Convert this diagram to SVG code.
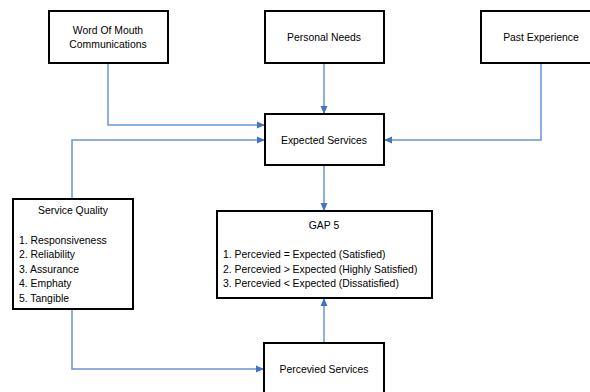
<svg xmlns="http://www.w3.org/2000/svg" width="590" height="392" viewBox="0 0 590 392">
<style>
.box{fill:#fff;stroke:#000;stroke-width:2}
.t{font-family:"Liberation Sans",Arial,sans-serif;font-size:10.4px;fill:#000}
.c{text-anchor:middle}
.ln{fill:none;stroke:#6b93d6;stroke-width:1.5;marker-end:url(#ah)}
</style>
<defs>
<marker id="ah" markerWidth="8" markerHeight="8" refX="7" refY="4" orient="auto" markerUnits="userSpaceOnUse">
<path d="M0,0.5 L8,4 L0,7.5 Z" fill="#4472c4"/>
</marker>
</defs>
<rect width="590" height="392" fill="#fff"/>
<g id="connectors">
<polyline class="ln" points="108,63 108,125 264,125"/>
<polyline class="ln" points="72,199 72,140 264,140"/>
<polyline class="ln" points="324,63 324,113"/>
<polyline class="ln" points="541,63 541,140 385,140"/>
<polyline class="ln" points="324,165 324,210"/>
<polyline class="ln" points="72,309 72,369 263,369"/>
<polyline class="ln" points="324,343 324,299"/>
</g>
<g id="wom">
<rect class="box" x="49" y="11" width="119" height="52"/>
<text class="t c" x="108" y="34">Word Of Mouth</text>
<text class="t c" x="108" y="48">Communications</text>
</g>
<g id="personal">
<rect class="box" x="265" y="11" width="119" height="52"/>
<text class="t c" x="324" y="41">Personal Needs</text>
</g>
<g id="past">
<rect class="box" x="481" y="11" width="120" height="52"/>
<text class="t c" x="541" y="41">Past Experience</text>
</g>
<g id="expected">
<rect class="box" x="265" y="114" width="119" height="51"/>
<text class="t c" x="324" y="144">Expected Services</text>
</g>
<g id="quality">
<rect class="box" x="13" y="199" width="120" height="110"/>
<text class="t c" x="73" y="214">Service Quality</text>
<text class="t" x="19" y="244">1. Responsiveness</text>
<text class="t" x="19" y="258">2. Reliability</text>
<text class="t" x="19" y="273">3. Assurance</text>
<text class="t" x="19" y="287">4. Emphaty</text>
<text class="t" x="19" y="302">5. Tangible</text>
</g>
<g id="gap5">
<rect class="box" x="217" y="211" width="215" height="87"/>
<text class="t c" x="324" y="229">GAP 5</text>
<text class="t" x="223" y="258">1. Percevied = Expected (Satisfied)</text>
<text class="t" x="223" y="273">2. Percevied &gt; Expected (Highly Satisfied)</text>
<text class="t" x="223" y="287">3. Percevied &lt; Expected (Dissatisfied)</text>
</g>
<g id="perceived">
<rect class="box" x="264" y="343" width="120" height="55"/>
<text class="t c" x="324" y="373">Percevied Services</text>
</g>
</svg>
